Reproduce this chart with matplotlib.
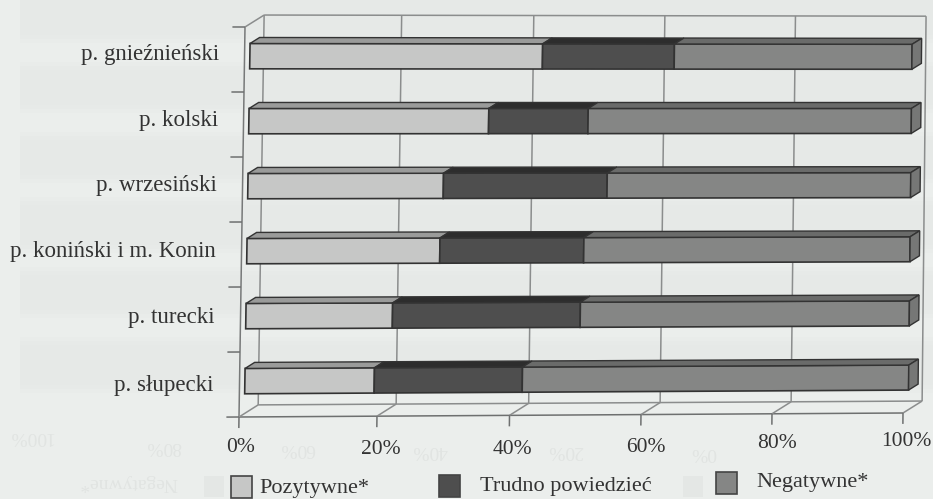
from __future__ import annotations

import matplotlib
matplotlib.use("Agg")
import matplotlib.pyplot as plt
import matplotlib.transforms as mtransforms
import numpy as np

plt.rcParams["font.family"] = ["Liberation Serif", "DejaVu Serif"]

# rows from top to bottom
counties = ["p. gnieźnieński", "p. kolski", "p. wrzesiński", "p. koniński i m. Konin", "p. turecki", "p. słupecki"]
pozytywne = [44.2, 36.2, 29.5, 29.1, 22.1, 19.5]
trudno = [19.9, 15.0, 24.7, 21.7, 28.3, 22.3]
negatywne = [35.9, 48.8, 45.8, 49.2, 49.6, 58.2]
value_ticks = [0, 20, 40, 60, 80, 100]
series_names = ["Pozytywne*", "Trudno powiedzieć", "Negatywne*"]

FACE = ["#c6c7c6", "#4e4e4e", "#858685"]
TOP = ["#9a9b9a", "#2d2d2d", "#6a6b6a"]
SIDE = "#767776"
EDGE = "#333333"
WALL = "#8b8d8d"
PAPER = "#ebeeec"
GHOST = "#e1e4e2"
INK = "#333333"

W, H = 933, 499
N = len(counties)

# the scan is not quite regular, grid lines sit a little off the bar scale (in percent)
GRID_NUDGE = [0, 0.78, 0.74, 0.54, 0.27, 0]
# label anchors in pixels
TICK_X = [241, 381, 512, 646, 777, 906]
TICK_Y = [448, 450, 449, 447, 444, 442]
LABEL_RIGHT = [219, 218, 217, 216, 215, 213]
LABEL_Y = [54, 120, 185, 251, 318, 385]
LEGEND_BOX = [(231, 476), (439, 475), (716, 472)]
LEGEND_TEXT = [(259, 488), (480, 486), (756, 483)]


class ScanWarp(mtransforms.Transform):
    """Chart plane (percent, row) to pixels, the page is slightly skewed on the scan."""

    input_dims = output_dims = 2

    def transform_non_affine(self, values):
        values = np.asarray(values, dtype=float)
        u = values[:, 0] / 100
        v = values[:, 1] / N
        # corners: bottom-left, bottom-right, top-left, top-right of the front plane
        px = (1 - v) * ((1 - u) * 239 + u * 903) + v * ((1 - u) * 245 + u * 907)
        py = (1 - v) * ((1 - u) * 417 + u * 413) + v * ((1 - u) * 27 + u * 28)
        return np.column_stack([px, H - py])


warp = ScanWarp()
# one unit of depth moves a point 19 px right and 12 px up
DEPTH_X = 19 / 6.64
DEPTH_Y = 12 / 65
BAR_FRONT = 0.28
BAR_BACK = 0.78
BAR_HALF = 0.195


def at(value, row, depth=0.0):
    return (value + DEPTH_X * depth, row + DEPTH_Y * depth)


fig = plt.figure(figsize=(W / 100, H / 100), dpi=100, facecolor=PAPER)
ax = fig.add_axes([0, 0, 1, 1])
ax.set_xlim(0, W)
ax.set_ylim(H, 0)
ax.set_axis_off()

# soft banding from the scan, stacked so the edges fade out
for top, bottom in [(0, 35), (70, 105), (140, 175), (205, 245), (275, 310), (345, 385)]:
    for grow in (0, 4, 8):
        ax.axhspan(top - grow, bottom + grow, xmin=20 / W, xmax=1, color="#d4d8d5", alpha=0.05, lw=0, zorder=0)

# show-through from the other side of the page, upside down
for x, y, label in [(30, 437, "100%"), (163, 447, "80%"), (297, 449, "60%"), (430, 450, "40%"),
                    (565, 451, "20%"), (703, 452, "0%")]:
    ax.text(x, y, label, fontsize=14, color=GHOST, rotation=180, ha="center", va="center", zorder=0.5)
ax.text(128, 482, "Negatywne*", fontsize=14, color=GHOST, rotation=180, ha="center", va="center", zorder=0.5)
for x in (204, 683):
    ax.add_patch(plt.Rectangle((x, 476), 20, 21, facecolor="#e4e7e5", edgecolor="none", zorder=0.5))


def wall_line(p, q, color=WALL, lw=1.1):
    ax.plot([p[0], q[0]], [p[1], q[1]], color=color, lw=lw, transform=warp, solid_capstyle="butt", zorder=1)


# walls and floor
wall_line(at(0, 0), at(0, N), color="#777979")
wall_line(at(0, 0), at(100, 0), color="#6e7070")
wall_line(at(0, N, 1), at(100, N, 1))
wall_line(at(0, 0, 1), at(100, 0, 1))
wall_line(at(0, N), at(0, N, 1))
for tick, nudge, x, y in zip(value_ticks, GRID_NUDGE, TICK_X, TICK_Y):
    grid = tick + nudge
    wall_line(at(grid, 0, 1), at(grid, N, 1))
    wall_line(at(grid, 0), at(grid, 0, 1))
    wall_line(at(grid, 0), at(grid, -0.17), color="#6e7070")
    ax.text(x, y, f"{tick}%", fontsize=15.5, color=INK, ha="center", va="center", zorder=3)
for row in range(N + 1):
    wall_line(at(0, row), at(-1.9, row), color="#6e7070")

# stacked bars
for i, name in enumerate(counties):
    center = N - 0.5 - i
    low = center - BAR_HALF
    high = center + BAR_HALF
    left = 0.0
    for j, share in enumerate([pozytywne[i], trudno[i], negatywne[i]]):
        right = left + share
        ax.fill(*zip(at(left, low, BAR_FRONT), at(right, low, BAR_FRONT), at(right, high, BAR_FRONT),
                     at(left, high, BAR_FRONT)),
                facecolor=FACE[j], edgecolor=EDGE, lw=1.2, transform=warp, zorder=2)
        ax.fill(*zip(at(left, high, BAR_FRONT), at(right, high, BAR_FRONT), at(right, high, BAR_BACK),
                     at(left, high, BAR_BACK)),
                facecolor=TOP[j], edgecolor=EDGE, lw=1.0, transform=warp, zorder=2)
        left = right
    ax.fill(*zip(at(left, low, BAR_FRONT), at(left, high, BAR_FRONT), at(left, high, BAR_BACK),
                 at(left, low, BAR_BACK)),
            facecolor=SIDE, edgecolor=EDGE, lw=1.0, transform=warp, zorder=2)
    ax.text(LABEL_RIGHT[i], LABEL_Y[i], name, fontsize=16.5, color=INK, ha="right", va="center", zorder=3)

# legend
for name, color, box, pos in zip(series_names, FACE, LEGEND_BOX, LEGEND_TEXT):
    ax.add_patch(plt.Rectangle(box, 21, 22, facecolor=color, edgecolor="#444444", lw=1.2, zorder=3))
    ax.text(pos[0], pos[1], name, fontsize=16, color=INK, ha="left", va="center", zorder=3)

fig.savefig("out.png", dpi=100, facecolor=PAPER)
